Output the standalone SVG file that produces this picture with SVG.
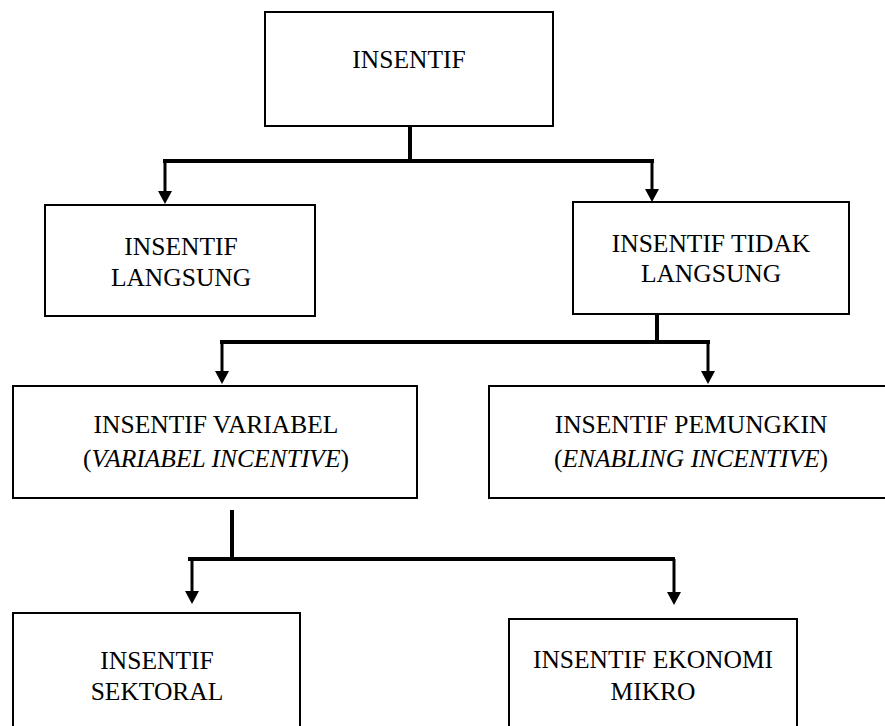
<svg xmlns="http://www.w3.org/2000/svg" width="885" height="726" viewBox="0 0 885 726">
<style>
.box{fill:#fff;stroke:#000;stroke-width:2}
.t{font-family:"Liberation Serif","Times New Roman",serif;font-size:25.5px;fill:#000;text-anchor:middle}
.i{font-style:italic}
.h{stroke:#000;stroke-width:4;fill:none}
.v{stroke:#000;stroke-width:3;fill:none}
</style>
<defs>
<marker id="ah" viewBox="0 0 14 13" refX="7" refY="13" markerWidth="14" markerHeight="13" markerUnits="userSpaceOnUse" orient="auto-start-reverse">
<path d="M0,0 L14,0 L7,13 Z" fill="#000"/>
</marker>
</defs>
<rect width="885" height="726" fill="#fff"/>
<g id="connectors">
<line class="h" x1="410" y1="126" x2="410" y2="161"/>
<line class="h" x1="163" y1="161" x2="654" y2="161"/>
<path class="v" d="M165,161 V191"/>
<path d="M158,191 L172,191 L165,204 Z"/>
<path class="v" d="M652,161 V189"/>
<path d="M645,189 L659,189 L652,202 Z"/>
<line class="h" x1="657" y1="314" x2="657" y2="342"/>
<line class="h" x1="220" y1="342" x2="710" y2="342"/>
<path class="v" d="M222,342 V371"/>
<path d="M215,371 L229,371 L222,384 Z"/>
<path class="v" d="M708,342 V371"/>
<path d="M701,371 L715,371 L708,384 Z"/>
<line class="h" x1="232" y1="510" x2="232" y2="559"/>
<line class="h" x1="188" y1="559" x2="675" y2="559"/>
<path class="v" d="M192,559 V591"/>
<path d="M185,591 L199,591 L192,604 Z"/>
<path class="v" d="M674,559 V592"/>
<path d="M667,592 L681,592 L674,605 Z"/>
</g>
<g id="insentif">
<rect class="box" x="265" y="12" width="288" height="114"/>
<text class="t" x="409" y="68">INSENTIF</text>
</g>
<g id="langsung">
<rect class="box" x="45" y="205" width="270" height="111"/>
<text class="t" x="181" y="255">INSENTIF</text>
<text class="t" x="181" y="286">LANGSUNG</text>
</g>
<g id="tidak-langsung">
<rect class="box" x="573" y="202" width="276" height="112"/>
<text class="t" x="711" y="252">INSENTIF TIDAK</text>
<text class="t" x="711" y="282">LANGSUNG</text>
</g>
<g id="variabel">
<rect class="box" x="13" y="386" width="404" height="112"/>
<text class="t" x="216" y="433">INSENTIF VARIABEL</text>
<text class="t" x="216" y="467">(<tspan class="i">VARIABEL INCENTIVE</tspan>)</text>
</g>
<g id="pemungkin">
<rect class="box" x="489" y="386" width="410" height="112"/>
<text class="t" x="691" y="433">INSENTIF PEMUNGKIN</text>
<text class="t" x="691" y="467">(<tspan class="i">ENABLING INCENTIVE</tspan>)</text>
</g>
<g id="sektoral">
<rect class="box" x="13" y="613" width="287" height="120"/>
<text class="t" x="157" y="669">INSENTIF</text>
<text class="t" x="157" y="700">SEKTORAL</text>
</g>
<g id="ekonomi-mikro">
<rect class="box" x="509" y="619" width="288" height="114"/>
<text class="t" x="653" y="668">INSENTIF EKONOMI</text>
<text class="t" x="653" y="700">MIKRO</text>
</g>
</svg>
